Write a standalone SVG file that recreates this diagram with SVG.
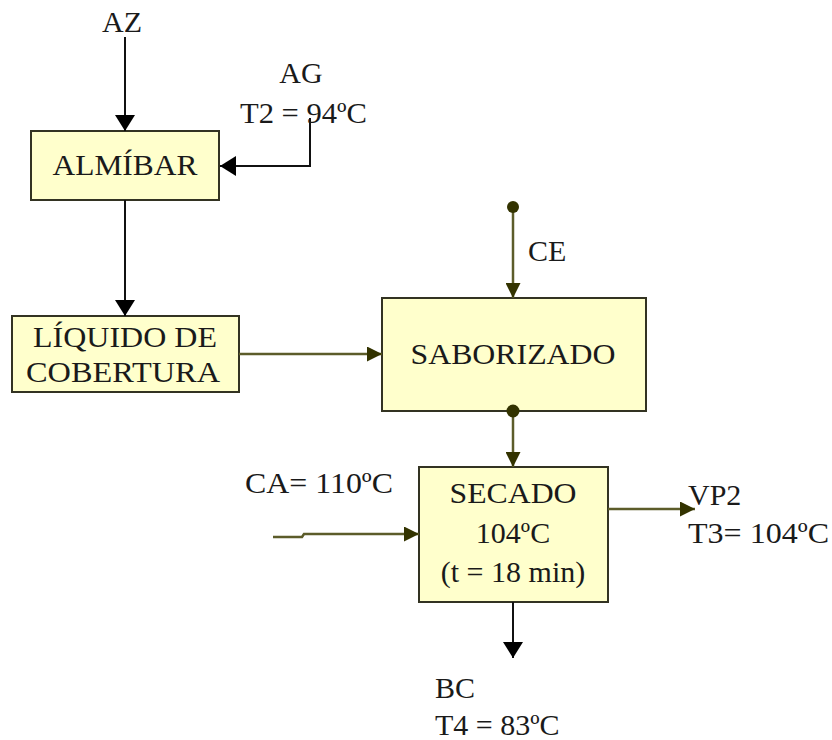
<svg xmlns="http://www.w3.org/2000/svg" width="832" height="740" viewBox="0 0 832 740">
<defs>
<style>
text{font-family:'Liberation Serif','DejaVu Serif','Times New Roman',serif;font-size:30px;fill:#1a1a1a}
.box{fill:#ffffcc;stroke:#333322;stroke-width:2}
.blk{stroke:#111;stroke-width:2;fill:none}
.olv{stroke:#5c5c2a;stroke-width:2.5;fill:none}
.c{text-anchor:middle}
</style>
<marker id="ab" viewBox="0 0 10 10" refX="10" refY="5" markerWidth="16" markerHeight="20" markerUnits="userSpaceOnUse" orient="auto" preserveAspectRatio="none"><path d="M0,0 L10,5 L0,10 Z" fill="#000"/></marker>
<marker id="ao" viewBox="0 0 10 10" refX="10" refY="5" markerWidth="15" markerHeight="15" markerUnits="userSpaceOnUse" orient="auto" preserveAspectRatio="none"><path d="M0,0 L10,5 L0,10 Z" fill="#333300"/></marker>
</defs>
<rect width="832" height="740" fill="#ffffff"/>
<g id="almibar">
<rect class="box" x="31" y="131" width="188" height="69"/>
<text class="c" x="125" y="175" textLength="145" lengthAdjust="spacingAndGlyphs">ALMÍBAR</text>
</g>
<g id="liquido">
<rect class="box" x="12" y="316" width="227" height="76"/>
<text class="c" x="125" y="347" textLength="184" lengthAdjust="spacingAndGlyphs">LÍQUIDO DE</text>
<text class="c" x="123" y="382" textLength="194" lengthAdjust="spacingAndGlyphs">COBERTURA</text>
</g>
<g id="saborizado">
<rect class="box" x="382" y="298" width="264" height="113"/>
<text class="c" x="513" y="364" font-size="32" textLength="205" lengthAdjust="spacingAndGlyphs">SABORIZADO</text>
</g>
<g id="secado">
<rect class="box" x="419" y="467" width="189" height="135"/>
<text class="c" x="513" y="503" textLength="127" lengthAdjust="spacingAndGlyphs">SECADO</text>
<text class="c" x="513" y="543">104ºC</text>
<text class="c" x="513" y="582">(t = 18 min)</text>
</g>
<g id="connectors">
<line class="blk" x1="125" y1="37" x2="125" y2="131" marker-end="url(#ab)"/>
<polyline class="blk" points="310,118 310,166 220,166" marker-end="url(#ab)"/>
<line class="blk" x1="125" y1="200" x2="125" y2="316" marker-end="url(#ab)"/>
<line class="olv" x1="239" y1="354" x2="382" y2="354" marker-end="url(#ao)"/>
<line class="olv" x1="513" y1="207" x2="513" y2="298" marker-end="url(#ao)"/>
<circle cx="513" cy="207" r="6" fill="#333300"/>
<line class="olv" x1="513" y1="411" x2="513" y2="467" marker-end="url(#ao)"/>
<circle cx="513" cy="411" r="6.5" fill="#333300"/>
<polyline class="olv" points="273,537 302,537 304,534 419,534" marker-end="url(#ao)"/>
<line class="olv" x1="608" y1="509" x2="695" y2="509" marker-end="url(#ao)"/>
<line class="blk" x1="513" y1="602" x2="513" y2="658" marker-end="url(#ab)"/>
</g>
<g id="labels">
<text x="102" y="32">AZ</text>
<text class="c" x="301" y="83">AG</text>
<text x="240" y="123" textLength="127" lengthAdjust="spacingAndGlyphs">T2 = 94ºC</text>
<text x="528" y="261">CE</text>
<text x="245" y="493" textLength="148" lengthAdjust="spacingAndGlyphs">CA= 110ºC</text>
<text x="688" y="505">VP2</text>
<text x="688" y="543" textLength="141" lengthAdjust="spacingAndGlyphs">T3= 104ºC</text>
<text x="435" y="698">BC</text>
<text x="435" y="735">T4 = 83ºC</text>
</g>
</svg>
